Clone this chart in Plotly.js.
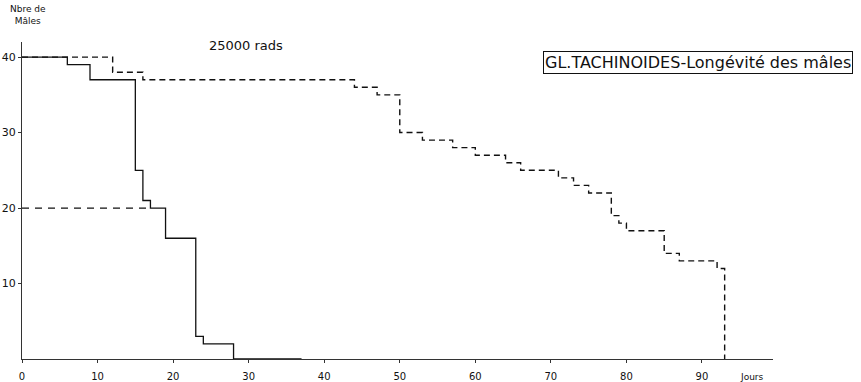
<!DOCTYPE html>
<html>
<head>
<meta charset="utf-8">
<script src="https://cdn.plot.ly/plotly-3.0.1.min.js"></script>
<style>html,body{margin:0;padding:0;background:#fff;}#chart{width:861px;height:382px;}</style>
</head>
<body>
<div id="chart"></div>
<script>
// Irradiated males (solid step line)
const solidDays = [0, 6, 9, 15, 16, 17, 19, 23, 24, 28, 37];
const solidMales = [40, 39, 37, 25, 21, 20, 16, 3, 2, 0, 0];
// Control males (dashed step line)
const dashedDays = [0, 12, 16, 44, 47, 50, 53, 57, 60, 64, 66, 71, 73, 75, 78, 79, 80, 85, 87, 92, 93];
const dashedMales = [40, 38, 37, 36, 35, 30, 29, 28, 27, 26, 25, 24, 23, 22, 19, 18, 17, 14, 13, 12, 0];
// Dashed reference at 20 males
const halfDays = [0, 17];
const halfMales = [20, 20];

const xTicks = [0, 10, 20, 30, 40, 50, 60, 70, 80, 90];
const xTickText = ["0", "10", "20", "30", "40", "50", "60", "70", "80", "90"];
const yTicks = [10, 20, 30, 40];
const yTickText = ["10", "20", "30", "40"];

const font = "DejaVu Sans, Liberation Sans, sans-serif";

const traces = [
  {x: dashedDays, y: dashedMales, mode: "lines", line: {shape: "hv", color: "#111", width: 1.4, dash: "6px,4px"}, hoverinfo: "none"},
  {x: halfDays, y: halfMales, mode: "lines", line: {shape: "hv", color: "#111", width: 1.3, dash: "7px,6px"}, hoverinfo: "none"},
  {x: solidDays, y: solidMales, mode: "lines", line: {shape: "hv", color: "#111", width: 1.3}, hoverinfo: "none"}
];

const layout = {
  width: 861, height: 382,
  margin: {l: 21.5, r: 88, t: 42, b: 23},
  paper_bgcolor: "#fff", plot_bgcolor: "#fff",
  showlegend: false,
  font: {family: font, color: "#111", size: 10},
  xaxis: {
    range: [0, 99.4], showgrid: false, zeroline: false,
    showline: true, linecolor: "#333", linewidth: 1,
    tickvals: xTicks, ticktext: xTickText,
    ticks: "outside", ticklen: 3, tickcolor: "#333",
    ticklabelstandoff: 5,
    tickfont: {family: font, size: 10, color: "#111"}
  },
  yaxis: {
    range: [0, 42], showgrid: false, zeroline: false,
    showline: true, linecolor: "#333", linewidth: 1,
    tickvals: yTicks, ticktext: yTickText,
    ticks: "outside", ticklen: 3, tickcolor: "#333",
    tickfont: {family: font, size: 11, color: "#111"}
  },
  annotations: [
    {xref: "paper", yref: "paper", x: 0.008, y: 1.085, text: "Nbre de<br>Mâles", showarrow: false,
     font: {family: font, size: 9, color: "#111"}, xanchor: "center", yanchor: "middle"},
    {xref: "x", yref: "y", x: 29.6, y: 41.6, text: "25000 rads", showarrow: false,
     font: {family: font, size: 13, color: "#111"}, xanchor: "center", yanchor: "middle"},
    {xref: "x", yref: "y", x: 89.5, y: 39.3, text: "GL.TACHINOIDES-Longévité des mâles", showarrow: false,
     font: {family: font, size: 16, color: "#111"}, xanchor: "center", yanchor: "middle",
     bordercolor: "#111", borderwidth: 1, borderpad: 1, bgcolor: "#fff"},
    {xref: "x", yref: "paper", x: 96.6, y: 0, yshift: -18, text: "Jours", showarrow: false,
     font: {family: font, size: 9, color: "#111"}, xanchor: "center", yanchor: "middle"}
  ]
};

Plotly.newPlot("chart", traces, layout, {staticPlot: true, displayModeBar: false});
</script>
</body>
</html>
